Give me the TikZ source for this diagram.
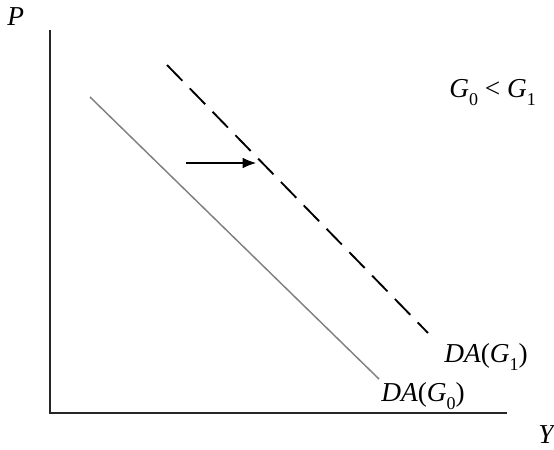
\documentclass[tikz,border=0pt]{standalone}
\usepackage{fontspec}
\setmainfont{Liberation Serif}
\usetikzlibrary{arrows.meta}
\newcommand{\sbt}[1]{\raisebox{-0.3em}{\fontsize{13.5}{14}\selectfont #1}}
\tikzset{
  lbl/.style={inner sep=0pt, font=\fontsize{20.5}{23}\selectfont, anchor=base west},
  axisline/.style={line width=1.1pt, draw=black!85},
  curve0/.style={line width=1.1pt, draw=black!50},
  curve1/.style={line width=1.4pt, draw=black, dash pattern=on 16.5pt off 8pt},
  shiftarrow/.style={line width=0.8pt, -{Latex[length=10pt,width=8pt]}}
}
\begin{document}
\begin{tikzpicture}[x=0.75pt,y=-0.75pt]
\useasboundingbox (0,0) rectangle (554,450);
% axes
\coordinate (top) at (50,30);
\coordinate (orig) at (50,413);
\coordinate (right) at (507,413);
\draw[axisline] (top) -- (orig) -- (right);
% curves
\coordinate (a0) at (90,97);
\coordinate (b0) at (379,379);
\coordinate (a1) at (167,65);
\coordinate (b1) at (428,333);
\draw[curve0] (a0) -- (b0);
\draw[curve1] (a1) -- (b1);
% arrow
\coordinate (s) at (186,163);
\coordinate (t) at (256,163);
\draw[shiftarrow] (s) -- (t);
% labels
\node[lbl] (P) at (7,25) {\textit{P}};
\node[lbl] (Y) at (538,443) {\textit{Y}};
\node[lbl] (G) at (449,97) {\textit{G}\sbt{0} < \textit{G}\sbt{1}};
\node[lbl] (DA1) at (444,362) {\textit{DA}(\textit{G}\sbt{1})};
\node[lbl] (DA0) at (381,401) {\textit{DA}(\textit{G}\sbt{0})};
\end{tikzpicture}
\end{document}
